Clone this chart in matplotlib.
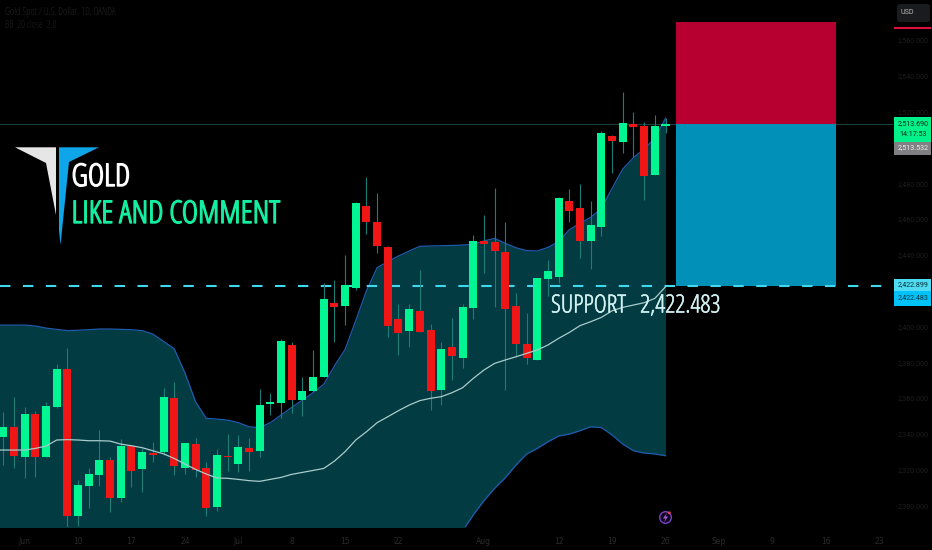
import matplotlib
matplotlib.use("Agg")
import matplotlib.pyplot as plt
import matplotlib.patheffects as pe
from matplotlib.patches import Polygon, Rectangle, FancyBboxPatch, Circle

# candle values: index 0..62, daily gold prices
opens = [2338.8,2344.3,2327.8,2351.4,2327.4,2355.5,2376.7,2294.8,2311.6,2317.5,2325.9,2304.7,2333.7,2320.7,2329.8,2330.2,
         2360.4,2321.4,2335.0,2321.2,2299.6,2328.0,2323.9,2332.8,2330.9,2357.4,2357.6,2390.1,2359.4,2364.3,2372.5,
         2413.4,2412.1,2422.2,2468.0,2459.1,2444.9,2404.5,2398.0,2409.3,2398.4,2365.0,2389.0,2382.7,2410.8,2448.1,2447.7,
         2442.1,2411.9,2390.7,2382.0,2427.2,2428.1,2470.8,2466.7,2448.1,2456.1,2506.9,2503.8,2513.6,2512.3,2485.1,2512.5]
closes = [2344.3,2328.0,2351.4,2327.4,2356.1,2376.9,2294.8,2312.1,2318.1,2325.9,2304.7,2333.7,2319.9,2330.6,2328.9,2361.1,
          2322.4,2335.2,2320.3,2299.1,2328.5,2327.6,2333.0,2330.2,2356.8,2358.1,2392.6,2359.4,2364.6,2372.1,2416.0,
          2411.2,2423.9,2469.3,2458.7,2445.5,2401.0,2396.7,2410.1,2397.4,2364.6,2387.7,2384.0,2411.6,2448.1,2446.6,2442.7,
          2410.1,2390.5,2383.1,2427.6,2431.7,2472.5,2465.0,2448.1,2457.2,2508.4,2504.1,2514.4,2512.1,2484.6,2512.7,2513.6]
highs = [2352.9,2360.9,2355.7,2353.5,2358.5,2379.5,2388.3,2314.7,2321.2,2342.7,2327.8,2337.5,2334.3,2332.4,2335.8,2366.1,
         2369.7,2335.2,2338.0,2325.0,2332.0,2340.4,2339.9,2338.0,2365.8,2363.5,2393.3,2391.6,2372.5,2387.4,2424.6,
         2426.5,2440.4,2470.2,2484.2,2474.9,2445.5,2413.1,2413.1,2432.1,2401.9,2392.0,2405.1,2413.1,2451.6,2462.8,2477.7,
         2459.1,2419.0,2407.8,2427.6,2437.6,2473.0,2477.3,2480.1,2470.8,2509.9,2507.5,2531.7,2520.1,2514.9,2518.6,2517.2]
lows = [2323.1,2321.2,2315.7,2316.6,2327.4,2354.8,2287.7,2289.0,2298.9,2311.6,2296.7,2302.6,2311.0,2307.8,2324.6,2328.7,
        2317.5,2318.1,2316.6,2294.8,2297.4,2319.9,2319.4,2319.9,2327.8,2351.0,2349.2,2352.0,2350.5,2364.1,2372.5,
        2392.0,2401.3,2420.9,2452.2,2441.4,2394.4,2384.6,2389.2,2397.4,2353.8,2356.6,2370.6,2377.1,2404.7,2430.6,2411.6,
        2365.0,2383.6,2379.5,2382.0,2417.5,2424.6,2459.1,2438.6,2432.6,2451.0,2486.1,2497.6,2495.4,2471.2,2485.1,2508.8]

# Bollinger bands: index -1..62
band_upper = [2401.3,2401.3,2401.3,2401.3,2400.8,2399.6,2398.9,2398.2,2398.4,2398.7,2399.1,2399.1,2398.9,2398.7,2398.2,2396.3,2392.2,
              2388.1,2374.7,2358.5,2349.2,2348.8,2348.2,2346.8,2344.5,2344.0,2346.8,2351.0,2355.3,2359.4,2363.5,2368.2,2378.4,
              2387.7,2403.8,2420.5,2433.4,2436.7,2439.9,2442.7,2445.3,2445.5,2445.6,2445.8,2446.0,2446.4,2448.3,2449.7,2447.0,
              2444.5,2442.9,2442.7,2444.7,2447.9,2454.6,2458.1,2461.5,2466.5,2477.7,2488.5,2494.8,2499.7,2505.6,2516.8]
band_basis = [2331.5,2331.5,2331.5,2331.5,2332.4,2333.7,2337.1,2337.3,2337.1,2336.7,2336.7,2336.5,2334.8,2333.9,2332.8,2331.1,2329.4,
              2326.8,2323.7,2320.7,2318.1,2315.9,2315.7,2315.1,2314.4,2314.0,2315.1,2316.2,2317.9,2319.0,2320.1,2321.2,2325.3,
              2330.6,2337.1,2341.7,2346.8,2350.1,2353.5,2356.6,2359.1,2360.4,2361.3,2363.5,2366.3,2371.5,2376.2,2379.9,2381.8,
              2383.6,2385.5,2387.4,2390.2,2393.9,2397.2,2401.0,2403.2,2405.6,2409.3,2411.2,2412.5,2413.8,2416.2,2422.7]
band_lower = [2262,2262,2262,2262,2264,2268,2275,2276,2276,2275,2274,2274,2271,2269,2267,2266,2267,
              2265,2273,2283,2287,2283,2283,2283,2284,2284,2283,2281,2280,2279,2277,2274,2272,
              2274,2270,2263,2260,2263,2267,2270,2273,2275,2277,2281,2286.2,2295.2,2303.2,2310.1,2316.0,
              2323.1,2329.3,2332.4,2336.1,2339.3,2340.4,2342.3,2344.5,2344.0,2339.9,2334.8,2331.1,2329.8,2329.3,2328.3]

last_price = 2513.6
support_price = 2422.9
target_price = 2570.6
position_start = 63
position_end = 78

x_tick_pos = [2,7,12,17,22,27,32,37,45,52,57,62,67,72,77,82]
x_tick_labels = ["Jun","10","17","24","Jul","8","15","22","Aug","12","19","26","Sep","9","16","23"]
y_tick_values = [2560,2540,2520,2480,2460,2440,2400,2380,2360,2340,2320,2300]
y_tick_labels = ["2,560.000","2,540.000","2,520.000","2,480.000","2,460.000","2,440.000",
                 "2,400.000","2,380.000","2,360.000","2,340.000","2,320.000","2,300.000"]

GREEN = "#00f593"
RED = "#f01616"
WICK = "#1d7d78"
COND = dict(family="Open Sans", stretch="condensed")
SCALE = dict(family="Roboto", fontsize=5.1)


def bolder(color, width):
    return [pe.withStroke(linewidth=width, foreground=color)]


W, H = 932, 550
fig = plt.figure(figsize=(W / 100, H / 100), dpi=100, facecolor="black")
PANE_W, PANE_H = 893, 527
ax = fig.add_axes([0, 1 - PANE_H / H, PANE_W / W, PANE_H / H], facecolor="black")
ax.set_xlim(-0.309, 83.3)
ax.set_ylim(2288.5, 2582.9)
ax.set_xticks(x_tick_pos)
ax.set_xticklabels(x_tick_labels, fontsize=5.5, color="#2b2b2b")
ax.tick_params(axis="x", length=0, pad=7)
ax.tick_params(axis="y", length=0, pad=0, labelleft=False, left=False, right=False)
for s in ax.spines.values():
    s.set_visible(False)

band_x = list(range(-1, 63))
ax.fill_between(band_x, band_lower, band_upper, color="#033b42", lw=0, zorder=1)
ax.plot(band_x, band_upper, color="#1f5cae", lw=0.9, zorder=2)
ax.plot(band_x, band_lower, color="#1f5cae", lw=0.9, zorder=2)

ax.axhline(last_price, color="#17423c", lw=0.8, zorder=2)
ax.add_patch(Rectangle((position_start, last_price), position_end - position_start, target_price - last_price,
                       fc="#b80030", ec="none", zorder=2))
ax.add_patch(Rectangle((position_start, support_price), position_end - position_start, last_price - support_price,
                       fc="#0090b8", ec="none", zorder=2))
ax.axhline(support_price, color="#3fd8ee", lw=1.5, linestyle=(0, (5.0, 6.0)), dash_capstyle="butt", zorder=3)

for i, (o, c, h, l) in enumerate(zip(opens, closes, highs, lows)):
    ax.plot([i, i], [l, h], color=WICK, lw=0.8, zorder=4, solid_capstyle="butt")
    ax.bar(i, abs(c - o), bottom=min(o, c), width=0.75, color=GREEN if c >= o else RED, lw=0, zorder=5)

ax.plot(band_x, band_basis, color="#a9cccc", lw=0.9, zorder=6)

# pixel overlay for labels and the logo
ov = fig.add_axes([0, 0, 1, 1], facecolor="none")
ov.set_xlim(0, W)
ov.set_ylim(H, 0)
ov.axis("off")

ov.text(5, 13, "Gold Spot / U.S. Dollar, 1D, OANDA", fontsize=7, color="#242424", va="center", **COND)
ov.text(5, 26, "BB  20 close  2.0", fontsize=7, color="#1e1e1e", va="center", **COND)

ov.add_patch(Polygon([(15, 147.3), (56, 147.3), (56, 215), (46, 163)], fc="#e6e6e6", ec="none"))
ov.add_patch(Polygon([(59, 147.3), (99, 147.3), (69, 162), (60.5, 245), (59, 230)], fc="#0ea5e9", ec="none"))
ov.text(71.5, 178, "GOLD", fontsize=22.5, color="white", va="center", ha="left",
        path_effects=bolder("white", 1.0), **COND)
ov.text(71.5, 215, "LIKE AND COMMENT", fontsize=22.5, color="#14eea0", va="center", ha="left",
        path_effects=bolder("#14eea0", 1.0), **COND)
ov.text(551, 306, "SUPPORT   2,422.483", fontsize=18, color="#d2f2f2", va="center", ha="left",
        path_effects=bolder("#d2f2f2", 0.4), **COND)

# price axis
for v, t in zip(y_tick_values, y_tick_labels):
    y = 41 + (2560 - v) * 1.79
    ov.text(913, y, t, color="#1e1e1e", ha="center", va="center", **SCALE)

ov.add_patch(FancyBboxPatch((897, 4), 33, 18, boxstyle="round,pad=0,rounding_size=2.5", fc="#1a1b1f", ec="none"))
ov.text(907, 13, "USD", color="#b8b8b8", ha="center", va="center", **SCALE)
ov.add_patch(Rectangle((894, 26.5), 37, 2.5, fc="#e0103c", ec="none"))

ov.add_patch(Rectangle((894, 117), 37, 25, fc="#00f08a", ec="none"))
ov.text(913, 123.5, "2,513.690", color="#062a1c", ha="center", va="center", **SCALE)
ov.text(913, 134, "14:17:53", color="#062a1c", ha="center", va="center", **SCALE)
ov.add_patch(Rectangle((894, 142), 37, 12.5, fc="#808084", ec="none"))
ov.text(913, 148, "2,513.532", color="#f0f0f0", ha="center", va="center", **SCALE)
ov.add_patch(Rectangle((894, 279), 37, 11.5, fc="#4fdcf2", ec="none"))
ov.text(913, 285, "2,422.899", color="#06303a", ha="center", va="center", **SCALE)
ov.add_patch(Rectangle((894, 290.5), 37, 15.5, fc="#00c2fa", ec="none"))
ov.text(913, 298, "2,422.483", color="#06303a", ha="center", va="center", **SCALE)

# news icon
ov.add_patch(Circle((665.5, 517.5), 5.8, fc="#10061c", ec="#7b3fc8", lw=1.0))
ov.add_patch(Polygon([(667, 512.5), (663, 518.5), (665.5, 518.5), (664, 522.5), (668, 516.5), (665.5, 516.5)],
                     fc="#a060e0", ec="none"))
ov.add_patch(Circle((669.3, 512.8), 1.4, fc="#f04050", ec="none"))

fig.savefig("out.png", dpi=100, facecolor="black")
